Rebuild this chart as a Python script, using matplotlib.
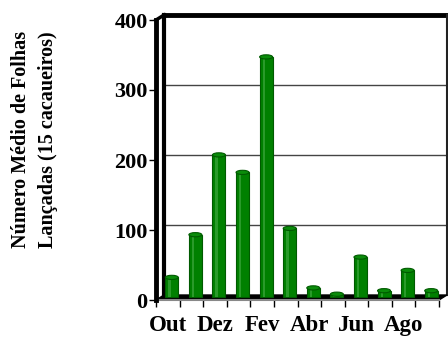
import matplotlib.pyplot as plt
import matplotlib.transforms as mtransforms
from matplotlib.patches import Ellipse, Polygon

months = ["Out", "Nov", "Dez", "Jan", "Fev", "Mar", "Abr", "Mai", "Jun", "Jul", "Ago", "Set"]
leaves = [28, 89, 203, 178, 343, 98, 13, 4, 57, 9, 38, 9]
yticks = [0, 100, 200, 300, 400]

plt.rcParams['font.family'] = ['Liberation Serif', 'DejaVu Serif']
plt.rcParams['font.weight'] = 'bold'

fig = plt.figure(figsize=(4.48, 3.37), dpi=100)
ax = fig.add_axes([156 / 448, 37 / 337, 283 / 448, 280 / 337])
ax.set_xlim(0, len(months))
ax.set_ylim(0, 400)
for s in ax.spines.values():
    s.set_visible(False)

# depth offsets (pixels) for the 3d look
back = mtransforms.offset_copy(ax.transData, fig=fig, x=8, y=5, units='dots')
mid = mtransforms.offset_copy(ax.transData, fig=fig, x=4, y=3, units='dots')
n = len(months)

# back wall grid
for v in yticks[1:-1]:
    ax.plot([0, n], [v, v], color='#444444', lw=1, transform=back, clip_on=False)
ax.plot([0, n], [400, 400], color='black', lw=3.5, transform=back, clip_on=False)
ax.plot([n, n], [0, 400], color='#222222', lw=1.5, transform=back, clip_on=False)
ax.plot([0, 0], [0, 400], color='black', lw=3, transform=back, clip_on=False)

# floor
p0 = ax.transData.transform([(0, 0), (n, 0)])
p1 = back.transform([(0, 0), (n, 0)])
inv = ax.transData.inverted()
floor = inv.transform([p0[0], p0[1], p1[1], p1[0]])
ax.add_patch(Polygon(floor, closed=True, color='black', clip_on=False, zorder=2))
ax.plot([0, n], [0, 0], color='#888888', lw=1.5, clip_on=False, zorder=2.5)

# bars as cylinders
xs = [i + 0.5 for i in range(n)]
w = 0.55
ax.bar(xs, leaves, width=w, color='#008000', edgecolor='#005a00', lw=0.8,
       transform=mid, zorder=3, clip_on=False)
ax.bar([x - 0.1 for x in xs], leaves, width=0.1, color='#2a9a2a', lw=0,
       transform=mid, zorder=3.1, clip_on=False)
for x, v in zip(xs, leaves):
    ax.add_patch(Ellipse((x, v), w, 6, facecolor='#0a8c0a', edgecolor='#005a00',
                         lw=0.8, transform=mid, zorder=3.2, clip_on=False))

# front left wall edge
ax.plot([0, 0], [0, 400], color='black', lw=3.5, clip_on=False, zorder=4)
top = inv.transform([ax.transData.transform((0, 400)), back.transform((0, 400))])
ax.plot(top[:, 0], top[:, 1], color='black', lw=2.5, clip_on=False, zorder=4)

ax.set_yticks(yticks)
ax.set_yticklabels([str(v) for v in yticks], fontsize=16, fontweight='bold')
ax.tick_params(axis='y', direction='out', length=5, width=1, pad=1)

ax.set_xticks(range(n + 1))
ax.set_xticklabels([])
ax.tick_params(axis='x', which='major', direction='out', length=5, width=1,
               color='black')
ax.set_xticks([i + 0.5 for i in range(0, n, 2)], minor=True)
ax.set_xticklabels(months[::2], minor=True, fontsize=16.5, fontweight='bold')
ax.tick_params(axis='x', which='minor', length=0, pad=11)

fig.text(0.077, 0.585, "Número Médio de Folhas\nLançadas (15 cacaueiros)",
         rotation=90, ha='center', va='center', fontsize=14.5, fontweight='bold',
         linespacing=1.5)

fig.savefig('out.png', dpi=100)
